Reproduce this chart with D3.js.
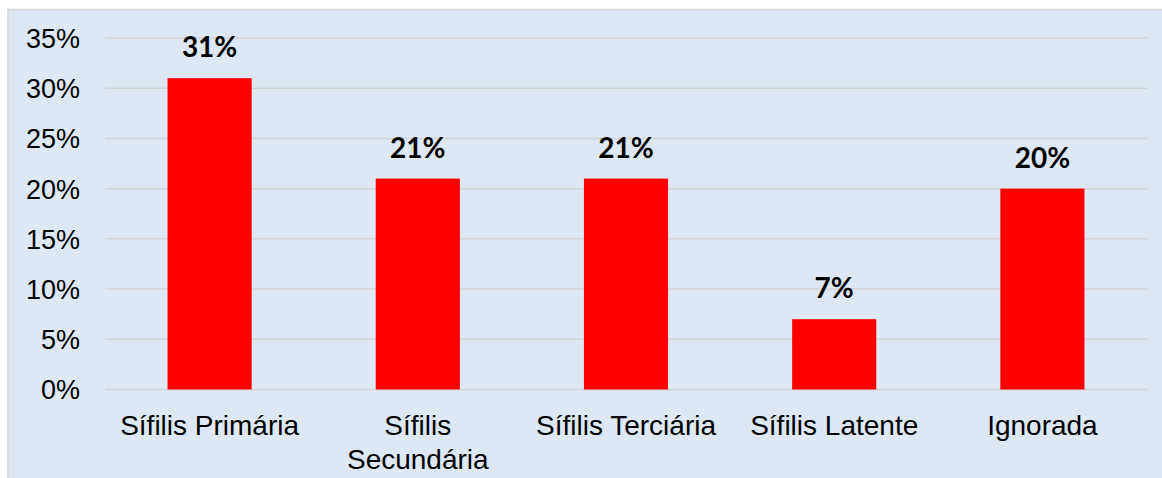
<!DOCTYPE html>
<html>
<head>
<meta charset="utf-8">
<script src="https://cdn.jsdelivr.net/npm/d3@7/dist/d3.min.js"></script>
<style>
  html, body { margin: 0; padding: 0; background: #fff; }
  svg { display: block; }
</style>
</head>
<body>
<div id="chart"></div>
<script>
// values
var categories = ['Sífilis Primária', 'Sífilis Secundária', 'Sífilis Terciária', 'Sífilis Latente', 'Ignorada'];
var shares = [31, 21, 21, 7, 20];
var yTicks = [0, 5, 10, 15, 20, 25, 30, 35];

var W = 1162, H = 478;
var svg = d3.select('#chart').append('svg').attr('width', W).attr('height', H);

// chart area panel
svg.append('rect').attr('x', 8).attr('y', 9.5).attr('width', W).attr('height', H)
  .attr('fill', '#dde8f4').attr('stroke', '#d6d6d6').attr('stroke-width', 1.5);

var x = d3.scaleBand().domain(categories).range([105.5, 1146.5]).paddingInner(0.596).paddingOuter(0.298);
var y = d3.scaleLinear().domain([0, 35]).range([389.5, 38]);

// gridlines
svg.append('g').selectAll('line').data(yTicks).join('line')
  .attr('x1', 105.5).attr('x2', 1147.5)
  .attr('y1', function (d) { return y(d); }).attr('y2', function (d) { return y(d); })
  .attr('stroke', '#d4d4d4').attr('stroke-width', 1.5);

// y axis labels
var yAxis = d3.axisLeft(y).tickValues(yTicks).tickSize(0).tickPadding(0)
  .tickFormat(function (d) { return d + '%'; });
var gy = svg.append('g').attr('transform', 'translate(80,0)').call(yAxis);
gy.select('.domain').remove();
gy.selectAll('text').attr('font-family', '"Liberation Sans", Arial, sans-serif')
  .attr('font-size', 27).attr('fill', '#000').attr('dy', '0.35em');

// bars
svg.append('g').selectAll('rect').data(shares).join('rect')
  .attr('x', function (d, i) { return x(categories[i]); })
  .attr('y', function (d) { return y(d); })
  .attr('width', x.bandwidth())
  .attr('height', function (d) { return y(0) - y(d); })
  .attr('fill', '#ff0000');

// value labels
svg.append('g').selectAll('text').data(shares).join('text')
  .attr('x', function (d, i) { return x(categories[i]) + x.bandwidth() / 2; })
  .attr('y', function (d) { return y(d) - 21; })
  .attr('text-anchor', 'middle')
  .attr('font-family', 'Lato, "Open Sans", sans-serif')
  .attr('font-weight', 'bold').attr('font-size', 28).attr('fill', '#000')
  .text(function (d) { return d + '%'; });

// category labels (wrap to band step)
var xAxis = d3.axisBottom(x).tickSize(0).tickPadding(0);
var gx = svg.append('g').attr('transform', 'translate(0,' + y(0) + ')').call(xAxis);
gx.select('.domain').remove();
gx.selectAll('text').attr('font-family', '"Liberation Sans", Arial, sans-serif')
  .attr('font-size', 28).attr('fill', '#000').attr('y', 45.5).attr('dy', 0)
  .each(function () { wrap(d3.select(this), x.step() - 4); });

function wrap(text, width) {
  var words = text.text().split(/\s+/), line = [], lineNo = 0;
  var xx = text.attr('x') || 0, yy = text.attr('y');
  text.text(null);
  var tspan = text.append('tspan').attr('x', xx).attr('y', yy);
  words.forEach(function (w) {
    line.push(w);
    tspan.text(line.join(' '));
    if (tspan.node().getComputedTextLength() > width && line.length > 1) {
      line.pop();
      tspan.text(line.join(' '));
      line = [w];
      lineNo++;
      tspan = text.append('tspan').attr('x', xx).attr('y', +yy + lineNo * 34).text(w);
    }
  });
}
</script>
</body>
</html>
